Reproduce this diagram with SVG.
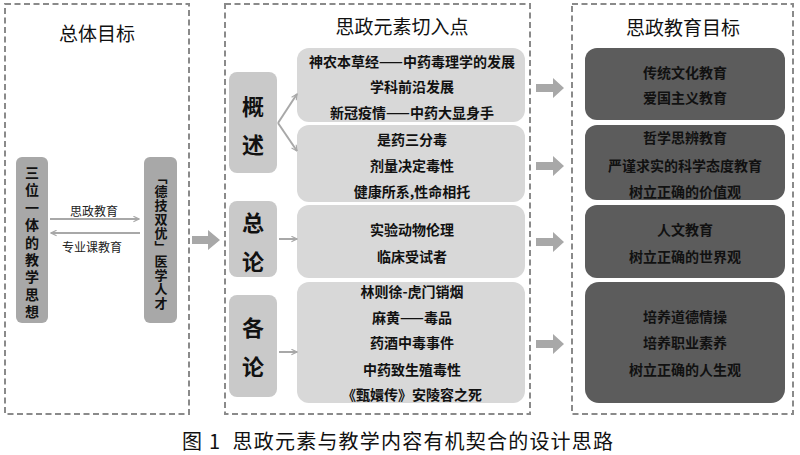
<svg xmlns="http://www.w3.org/2000/svg" width="800" height="455" viewBox="0 0 800 455">
<defs>
<style>
.frame{fill:#fff;stroke:#8a8a8a;stroke-width:2;stroke-dasharray:6 3.5}
.title{font-family:"Noto Sans CJK SC","Noto Sans",sans-serif;font-size:19px;fill:#111;text-anchor:middle}
.t{font-family:"Noto Sans CJK SC","Noto Sans",sans-serif;font-size:14px;font-weight:bold;fill:#111;text-anchor:middle}
.vt{font-family:"Noto Sans CJK SC","Noto Sans",sans-serif;font-weight:bold;fill:#111;text-anchor:middle;writing-mode:vertical-rl}
.big{font-family:"Noto Sans CJK SC","Noto Sans",sans-serif;font-size:22px;font-weight:bold;fill:#111;text-anchor:middle}
.lbl{font-family:"Noto Sans CJK SC","Noto Sans",sans-serif;font-size:12px;fill:#222;text-anchor:middle}
.cap{font-family:"Noto Sans CJK SC","Noto Sans",sans-serif;font-size:20px;fill:#111}
.n1{fill:#a8a8a8}
.n2{fill:#c9c9c9}
.n3{fill:#d8d8d8}
.n4{fill:#5c5c5c}
.ln{stroke:#a8a8a8;stroke-width:2;fill:none;marker-end:url(#ah)}
.blk{fill:#a8a8a8}
</style>
<marker id="ah" viewBox="0 0 10 10" refX="9" refY="5" markerWidth="7" markerHeight="7" orient="auto" markerUnits="userSpaceOnUse">
<path d="M1,1 L9,5 L1,9" fill="none" stroke="#a8a8a8" stroke-width="1.6"/>
</marker>
</defs>
<rect width="800" height="455" fill="#fff"/>

<g id="frame-left">
<rect class="frame" x="5" y="4" width="184" height="410"/>
<text class="title" x="97" y="41">总体目标</text>
</g>
<g id="frame-mid">
<rect class="frame" x="225" y="4" width="305" height="410"/>
<text class="title" x="402" y="34">思政元素切入点</text>
</g>
<g id="frame-right">
<rect class="frame" x="572" y="4" width="221" height="410"/>
<text class="title" x="683" y="35">思政教育目标</text>
</g>

<g id="node-sanwei">
<rect class="n1" x="16" y="157" width="32" height="166" rx="6"/>
<text class="vt" x="32" y="244" style="font-size:14px;letter-spacing:3.4px">三位一体的教学思想</text>
</g>
<g id="node-dejishuangyou">
<rect class="n1" x="144" y="157" width="33" height="166" rx="6"/>
<text class="vt" x="161" y="241" style="font-size:13px;letter-spacing:1px">﹁德技双优﹂医学人才</text>
</g>

<g id="node-gaishu">
<rect class="n2" x="229" y="72" width="48" height="101" rx="8"/>
<text class="big" x="253" y="115">概</text>
<text class="big" x="253" y="153">述</text>
</g>
<g id="node-zonglun">
<rect class="n2" x="229" y="201" width="48" height="76" rx="8"/>
<text class="big" x="253" y="231">总</text>
<text class="big" x="253" y="270">论</text>
</g>
<g id="node-gelun">
<rect class="n2" x="229" y="295" width="48" height="102" rx="8"/>
<text class="big" x="253" y="336">各</text>
<text class="big" x="253" y="375">论</text>
</g>

<g id="node-c1">
<rect class="n3" x="297" y="48" width="228" height="74" rx="12"/>
<text class="t" x="412" y="67">神农本草经——中药毒理学的发展</text>
<text class="t" x="412" y="92">学科前沿发展</text>
<text class="t" x="412" y="118">新冠疫情——中药大显身手</text>
</g>
<g id="node-c2">
<rect class="n3" x="297" y="125" width="228" height="77" rx="12"/>
<text class="t" x="412" y="145">是药三分毒</text>
<text class="t" x="412" y="171">剂量决定毒性</text>
<text class="t" x="412" y="197">健康所系,性命相托</text>
</g>
<g id="node-c3">
<rect class="n3" x="297" y="205" width="228" height="73" rx="12"/>
<text class="t" x="412" y="235">实验动物伦理</text>
<text class="t" x="412" y="262">临床受试者</text>
</g>
<g id="node-c4">
<rect class="n3" x="297" y="282" width="228" height="121" rx="12"/>
<text class="t" x="412" y="297">林则徐-虎门销烟</text>
<text class="t" x="412" y="323">麻黄——毒品</text>
<text class="t" x="412" y="348">药酒中毒事件</text>
<text class="t" x="412" y="375">中药致生殖毒性</text>
<text class="t" x="412" y="400">《甄嬛传》安陵容之死</text>
</g>

<g id="node-g1">
<rect class="n4" x="585" y="48" width="200" height="72" rx="12"/>
<text class="t" x="685" y="78">传统文化教育</text>
<text class="t" x="685" y="103">爱国主义教育</text>
</g>
<g id="node-g2">
<rect class="n4" x="585" y="125" width="200" height="75" rx="12"/>
<text class="t" x="685" y="143">哲学思辨教育</text>
<text class="t" x="685" y="171">严谨求实的科学态度教育</text>
<text class="t" x="685" y="197">树立正确的价值观</text>
</g>
<g id="node-g3">
<rect class="n4" x="585" y="205" width="200" height="73" rx="12"/>
<text class="t" x="685" y="235">人文教育</text>
<text class="t" x="685" y="262">树立正确的世界观</text>
</g>
<g id="node-g4">
<rect class="n4" x="585" y="282" width="200" height="121" rx="14"/>
<text class="t" x="685" y="322">培养道德情操</text>
<text class="t" x="685" y="348">培养职业素养</text>
<text class="t" x="685" y="375">树立正确的人生观</text>
</g>

<g id="connectors">
<line class="ln" x1="50" y1="219" x2="139" y2="219"/>
<line class="ln" x1="140" y1="233" x2="51" y2="233"/>
<text class="lbl" x="94" y="216">思政教育</text>
<text class="lbl" x="92" y="252">专业课教育</text>
<path class="ln" d="M278,123 L297,94"/>
<path class="ln" d="M278,123 L297,151"/>
<line class="ln" x1="279" y1="239" x2="297" y2="239"/>
<line class="ln" x1="279" y1="352" x2="297" y2="352"/>
<polygon class="blk" points="192,236 208,236 208,230 220,240 208,250 208,244 192,244"/>
<polygon class="blk" points="536,84 553,84 553,78 564,88 553,98 553,92 536,92"/>
<polygon class="blk" points="536,162 553,162 553,156 564,166 553,176 553,170 536,170"/>
<polygon class="blk" points="536,238 553,238 553,232 564,242 553,252 553,246 536,246"/>
<polygon class="blk" points="536,340 553,340 553,334 564,344 553,354 553,348 536,348"/>
</g>

<text class="cap" x="182" y="449" textLength="431" lengthAdjust="spacing" xml:space="preserve">图 1  思政元素与教学内容有机契合的设计思路</text>
</svg>
